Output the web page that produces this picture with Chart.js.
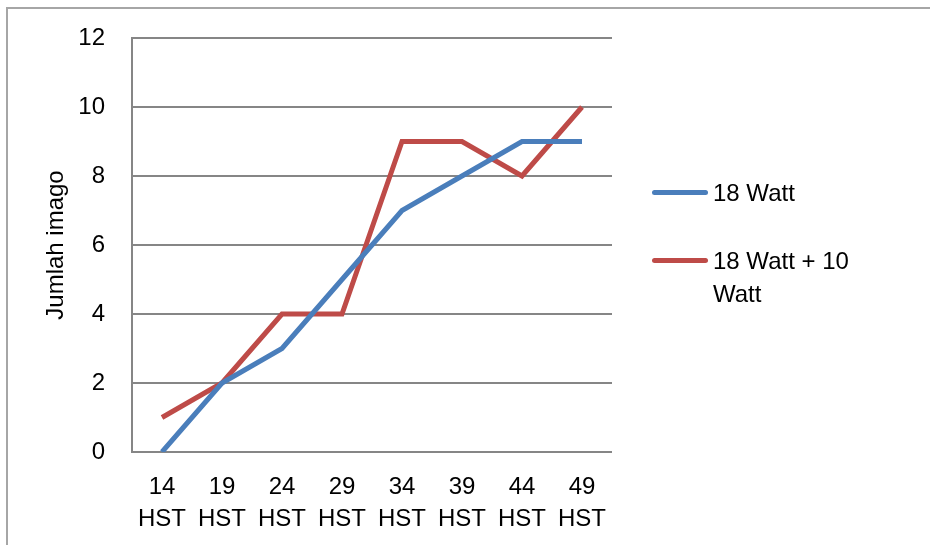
<!DOCTYPE html>
<html>
<head>
<meta charset="utf-8">
<script src="https://cdn.jsdelivr.net/npm/chart.js@4"></script>
<style>
  body { margin: 0; background: #fff; }
  #wrap { position: relative; width: 930px; height: 545px; }
  #frame { position: absolute; left: 6px; top: 7px; width: 930px; height: 545px;
           border-left: 2px solid #a6a6a6; border-top: 2px solid #a6a6a6; }
  .item { position: absolute; left: 652px; display: flex; align-items: flex-start;
          font-family: "Liberation Sans", sans-serif; font-size: 24px; color: #000; }
  .swatch { width: 56px; height: 5px; border-radius: 3px; margin-top: 14px; margin-right: 5px; }
  .label { line-height: 33px; width: 200px; }
</style>
</head>
<body>
<div id="wrap">
  <canvas id="chart" width="930" height="545"></canvas>
  <div id="frame"></div>
</div>
<script>
const days = ['14', '19', '24', '29', '34', '39', '44', '49'];
const watt18 = [0, 2, 3, 5, 7, 8, 9, 9];
const watt18plus10 = [1, 2, 4, 4, 9, 9, 8, 10];
const seriesNames = ['18 Watt', '18 Watt + 10 Watt'];
const colors = ['#4a7ebb', '#be4b48'];

const font = { family: '"Liberation Sans", sans-serif', size: 24 };

const ctx = document.getElementById('chart').getContext('2d');
const chart = new Chart(ctx, {
    type: 'line',
    data: {
        labels: days.map(d => [d, 'HST']),
        datasets: [{
            label: seriesNames[0],
            data: watt18,
            borderColor: colors[0],
            borderWidth: 5,
            pointRadius: 0,
            tension: 0
        }, {
            label: seriesNames[1],
            data: watt18plus10,
            borderColor: colors[1],
            borderWidth: 5,
            pointRadius: 0,
            tension: 0
        }]
    },
    options: {
        responsive: false,
        animation: false,
        layout: { padding: { top: 38, right: 318, left: 0, bottom: 0 } },
        scales: {
            x: {
                offset: true,
                grid: { display: false, drawTicks: false },
                border: { display: false },
                ticks: { color: '#000', font: { ...font, lineHeight: 1.35 }, padding: 19, maxRotation: 0 },
                afterFit: s => { s.height = 93; s.paddingTop = 0; s.paddingBottom = 0; }
            },
            y: {
                min: 0,
                max: 12,
                ticks: { stepSize: 2, color: '#000', font: font, padding: 27 },
                grid: { color: '#868686', lineWidth: 2, drawTicks: false },
                border: { color: '#868686', width: 2 },
                title: { display: true, text: 'Jumlah imago', color: '#000', font: font, padding: { top: 42 } },
                afterFit: s => { s.width = 132; s.paddingTop = 0; s.paddingBottom = 0; }
            }
        },
        plugins: {
            legend: { display: false },
            tooltip: { enabled: false }
        }
    }
});

// legend as html text, one row per series
const wrap = document.getElementById('wrap');
const legendTops = [176, 244];
seriesNames.forEach((name, i) => {
    const item = document.createElement('div');
    item.className = 'item';
    item.style.top = legendTops[i] + 'px';
    item.innerHTML = '<div class="swatch" style="background:' + colors[i] + '"></div><div class="label">' +
        (i === 1 ? '18 Watt + 10<br>Watt' : name) + '</div>';
    wrap.appendChild(item);
});
</script>
</body>
</html>
